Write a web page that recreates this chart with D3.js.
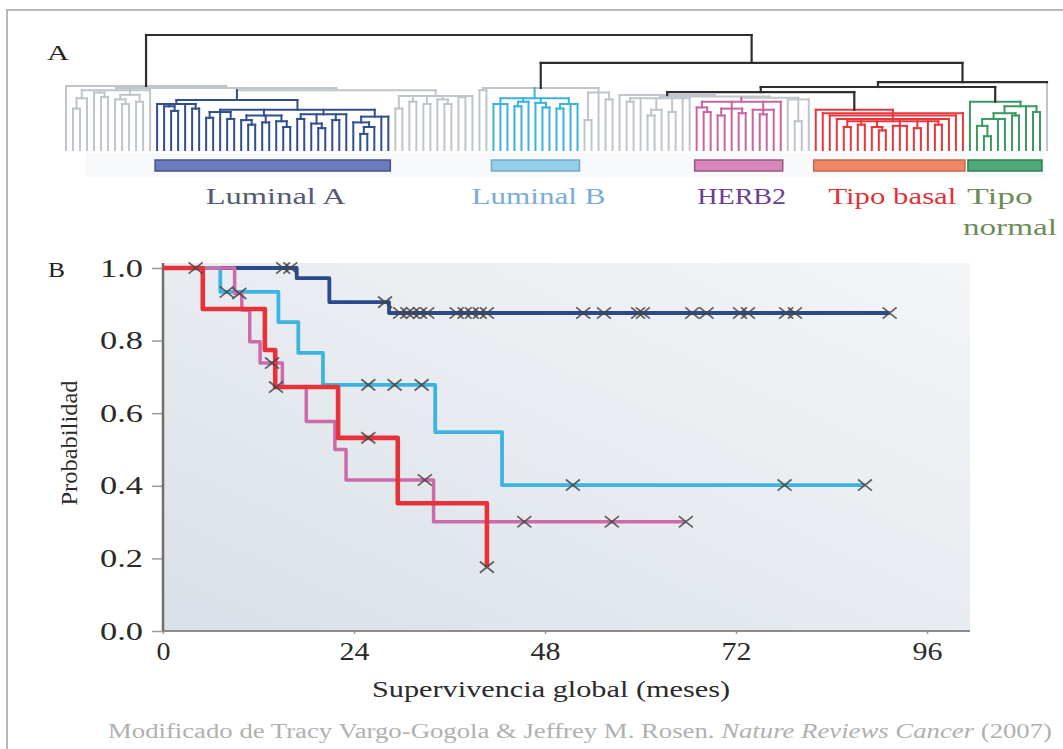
<!DOCTYPE html>
<html>
<head>
<meta charset="utf-8">
<script src="https://cdn.jsdelivr.net/npm/d3@7"></script>
<style>
  html, body { margin: 0; padding: 0; background: #fff; }
  svg { display: block; font-family: "Liberation Serif", "DejaVu Serif", serif; }
</style>
</head>
<body>
<svg id="fig" width="1063" height="749"></svg>
<script>
// ---------------------------------------------------------------------------
// Panel A: hierarchical clustering of tumour samples.
// A node is [height, child, child, ...]; `o` is a single sample (leaf).
// ---------------------------------------------------------------------------
const o = 0;

const grayLeft = [0.52, [0.45, [0.36, o, o], o], [0.5, o, [0.46, o, o]],
  [0.48, [0.44, o, [0.4, o, o]], [0.42, o, o]], o];
const luminalA = [0.435,
  [0.4, o, [0.38, o, [0.34, o, o]], o, [0.36, o, o]],
  [0.35,
    [0.33, [0.28, o, o], o, [0.27, o, o]],
    [0.3, [0.26, o, [0.22, o, o]], [0.24, o, o], [0.25, o, [0.2, o, o]]],
    [0.31, [0.27, o, o], [0.23, o, [0.19, o, o]], [0.26, o, o], o],
    [0.29, [0.24, o, [0.2, [0.14, o, o], o]], o, o]]];
const grayAfterA = [0.47, [0.36, o, o], [0.42, o, o], [0.4, o, o], [0.44, o, [0.4, o, o]], [0.46, o, o], o];
const leftInner = [0.52, luminalA, grayAfterA];
const leftBranch = [0.557, o, [0.54, grayLeft, leftInner]];

const luminalB = [0.45, [0.4, o, o, o], [0.42, [0.38, o, o], o], [0.41, o, [0.37, o, o]], [0.4, [0.36, o, o], o, o]];
const grayAfterB = [0.5, [0.26, o, o], o, [0.44, o, o]];
const lumBBranch = [0.54, [0.52, o, o], luminalB, grayAfterB];

const grayBeforeHer2 = [0.45, [0.42, o, o], o, [0.35, [0.3, o, o], o], [0.33, o, o], o, o];
const her2 = [0.42, [0.37, o, [0.33, o, o]], [0.36, [0.3, o, o], o, [0.32, o, o]], [0.35, o, [0.31, o, o], o], o];
const grayAfterHer2 = [0.44, o, [0.25, o, o], o];
const her2Branch = [0.478, o, [0.465, grayBeforeHer2, [0.455, her2, grayAfterHer2]]];

const basal = [0.35, o, [0.32, o, [0.3, o, [0.27, o,
  [0.25, [0.2, o, o], [0.22, o, o], [0.2, o, [0.17, o, o]], [0.21, o, o, o], [0.19, o, o], o, [0.22, o, o]],
  o], o], o]];
const normalLike = [0.42, o, [0.38, [0.32, [0.27, [0.21, o, [0.12, o, o]], o, o], [0.3, o, o]], o, [0.33, o, o]]];

const basalNormalBranch = [0.504, her2Branch, basal];
const upperRight = [0.548, basalNormalBranch, normalLike];
const outerRight = [0.59, upperRight, o];
const rightBranch = [0.757, lumBBranch, outerRight];
const tree = [1, leftBranch, rightBranch];

// top-level joins drawn in black
const backbone = [tree, rightBranch, outerRight, upperRight, basalNormalBranch];

const subtypeNames = ["Luminal A", "Luminal B", "HERB2", "Tipo basal", "Tipo normal"];
const subtypeClusters = [luminalA, luminalB, her2, basal, normalLike];

// ---------------------------------------------------------------------------
// Panel B: Kaplan-Meier overall survival by subtype (months).
// ---------------------------------------------------------------------------
const kmSubtypes = ["Luminal A", "Luminal B", "HERB2", "Tipo basal"];

const lumATimes = [0, 16.8, 20.9, 28.4];
const lumASurv  = [1, 0.972, 0.906, 0.876];
const lumAEnd = 91.3;
const lumACensored = [15.1, 16.0, 27.9, 29.8, 30.7, 31.4, 32.3, 33.2, 36.9, 37.9, 38.8, 39.8, 40.7,
  52.8, 55.4, 59.7, 60.3, 66.5, 68.3, 72.5, 73.5, 78.3, 79.4, 91.3];

const lumBTimes = [0, 7.2, 14.5, 17.0, 20.1, 34.2, 42.6];
const lumBSurv  = [1, 0.934, 0.851, 0.766, 0.678, 0.548, 0.402];
const lumBEnd = 88.2;
const lumBCensored = [8.0, 25.8, 29.1, 32.5, 51.5, 78.1, 88.2];

const her2Times = [0, 9.0, 9.9, 10.9, 12.2, 15.0, 18.0, 21.6, 23.0, 34.0];
const her2Surv  = [1, 0.93, 0.884, 0.797, 0.738, 0.672, 0.577, 0.5, 0.416, 0.301];
const her2End = 65.7;
const her2Censored = [9.6, 13.7, 32.9, 45.4, 56.4, 65.7];

const basalTimes = [0, 5.0, 12.8, 14.1, 22.0, 29.5, 40.7];
const basalSurv  = [1, 0.887, 0.774, 0.672, 0.532, 0.352, 0.176];
const basalEnd = 40.7;
const basalCensored = [4.1, 14.2, 25.8, 40.7];

const monthTicks = [0, 24, 48, 72, 96];
const probTicks = [0, 0.2, 0.4, 0.6, 0.8, 1.0];

// ---------------------------------------------------------------------------
const svg = d3.select("#fig");
svg.append("rect").attr("width", 1063).attr("height", 749).attr("fill", "#fff");

// outer frame
svg.append("path").attr("d", "M7,760V10H1070")
  .attr("fill", "none").attr("stroke", "#b8b8b8").attr("stroke-width", 2);

// colours
const BLACK = "#2e2e2e", GRAY = "#bfc5cb";
const treeColor = d3.scaleOrdinal().domain(subtypeNames)
  .range(["#2f4f8e", "#3bb2de", "#c964a2", "#e8363c", "#3b9a63"]);
const barFill = d3.scaleOrdinal().domain(subtypeNames)
  .range(["#6a7bc0", "#93cfeb", "#d986bd", "#ef8665", "#4fa877"]);
const barStroke = d3.scaleOrdinal().domain(subtypeNames)
  .range(["#46537f", "#76a9c2", "#95587f", "#c06a4c", "#337d55"]);
const labelColor = d3.scaleOrdinal().domain(subtypeNames)
  .range(["#545a70", "#78acdc", "#6a3f96", "#e23236", "#6e8c57"]);

// widens a text run to a given advance, the face being set wider than the fallback serif
const stretch = (sel, w) => sel.attr("textLength", w).attr("lengthAdjust", "spacingAndGlyphs");

// ---- dendrogram layout ----
const root = d3.hierarchy(tree, d => Array.isArray(d) ? d.slice(1) : null);
const leaves = root.leaves();
const leafX = d3.scaleLinear().domain([0, leaves.length - 1]).range([66, 1047]);
const heightY = d3.scaleLinear().domain([0, 1]).range([150, 35]);
leaves.forEach((l, i) => { l.x = leafX(i); });
root.eachAfter(n => {
  if (n.children) n.x = (n.children[0].x + n.children[n.children.length - 1].x) / 2;
  n.y = heightY(n.children ? n.data[0] : 0);
});
const subtypeOf = new Map(subtypeClusters.map((c, i) => [c, subtypeNames[i]]));
root.eachBefore(n => {
  n.subtype = subtypeOf.get(n.data) || (n.parent ? n.parent.subtype : null);
  n.backbone = backbone.includes(n.data);
});
const nodeColor = n => n.backbone ? BLACK : (n.subtype ? treeColor(n.subtype) : GRAY);
const rank = c => c === GRAY ? 0 : (c === BLACK ? 2 : 1);

const segs = [];
root.each(n => {
  if (n.children) {
    const c0 = n.children[0], c1 = n.children[n.children.length - 1];
    segs.push({ x1: c0.x, y1: n.y, x2: c1.x, y2: n.y, c: nodeColor(n) });
  }
  if (n.parent) {
    const c = (n.parent.backbone && n.children) ? BLACK : nodeColor(n);
    segs.push({ x1: n.x, y1: n.y, x2: n.x, y2: n.parent.y, c });
  }
});
segs.sort((a, b) => rank(a.c) - rank(b.c));

const dendro = svg.append("g");
// pale strip behind the subtype bars
dendro.append("rect").attr("x", 85).attr("y", 153).attr("width", 960).attr("height", 24)
  .attr("fill", "#f8f9fa");
dendro.selectAll("line.seg").data(segs).join("line")
  .attr("class", "seg")
  .attr("x1", d => d.x1).attr("y1", d => d.y1).attr("x2", d => d.x2).attr("y2", d => d.y2)
  .attr("stroke", d => d.c).attr("stroke-width", d => d.c === BLACK ? 2.2 : 2)
  .attr("stroke-linecap", "square");

// subtype bars and names
const groupNodes = subtypeNames.map((name, i) => {
  let found = null;
  root.each(n => { if (n.data === subtypeClusters[i]) found = n; });
  const lv = found.leaves();
  return { name, x0: lv[0].x - 2, x1: lv[lv.length - 1].x + 2 };
});
dendro.selectAll("rect.bar").data(groupNodes).join("rect")
  .attr("class", "bar")
  .attr("x", d => d.x0).attr("y", 160).attr("width", d => d.x1 - d.x0).attr("height", 11)
  .attr("fill", d => barFill(d.name)).attr("stroke", d => barStroke(d.name)).attr("stroke-width", 1.5);

const labelWidth = d3.scaleOrdinal().domain(subtypeNames).range([140, 134, 89, 128, 0]);
const labelG = dendro.append("g").attr("font-size", 24);
groupNodes.forEach(g => {
  const fill = labelColor(g.name);
  if (g.name === "Tipo normal") {
    stretch(labelG.append("text").attr("fill", fill).attr("x", g.x0 - 1).attr("y", 204).text("Tipo"), 66);
    stretch(labelG.append("text").attr("fill", fill).attr("x", g.x0 - 5).attr("y", 235).text("normal"), 94);
  } else {
    stretch(labelG.append("text").attr("fill", fill).attr("text-anchor", "middle")
      .attr("x", (g.x0 + g.x1) / 2 + 3).attr("y", 204).text(g.name), labelWidth(g.name));
  }
});

stretch(svg.append("text").attr("x", 47).attr("y", 60).attr("font-size", 22).attr("fill", "#222").text("A"), 22);
stretch(svg.append("text").attr("x", 48).attr("y", 277).attr("font-size", 22).attr("fill", "#222").text("B"), 17);

// ---- Kaplan-Meier panel ----
const plotLeft = 163, plotRight = 970, plotTop = 263, plotBottom = 631;
const x = d3.scaleLinear().domain([0, 101.4]).range([plotLeft, plotRight]);
const y = d3.scaleLinear().domain([0, 1]).range([plotBottom, 268]);

const defs = svg.append("defs");
const grad = defs.append("linearGradient").attr("id", "plotBg")
  .attr("x1", 0).attr("y1", 1).attr("x2", 1).attr("y2", 0);
grad.append("stop").attr("offset", 0).attr("stop-color", "#d9e0e7");
grad.append("stop").attr("offset", 0.55).attr("stop-color", "#e9edf1");
grad.append("stop").attr("offset", 1).attr("stop-color", "#f3f5f7");

svg.append("rect").attr("x", plotLeft).attr("y", plotTop)
  .attr("width", plotRight - plotLeft).attr("height", plotBottom - plotTop)
  .attr("fill", "url(#plotBg)");

const yAxis = svg.append("g").attr("transform", `translate(${plotLeft},0)`)
  .call(d3.axisLeft(y).tickValues(probTicks).tickFormat(d3.format(".1f")).tickSize(11).tickPadding(9));
const xAxis = svg.append("g").attr("transform", `translate(0,${plotBottom})`)
  .call(d3.axisBottom(x).tickValues(monthTicks).tickSize(3).tickPadding(8));
[yAxis, xAxis].forEach(g => {
  g.select(".domain").remove();
  g.selectAll(".tick line").attr("stroke", "#9a9a9a").attr("stroke-width", 1.5);
  g.selectAll(".tick text").attr("font-family", "Liberation Serif, serif")
    .attr("font-size", 25).attr("fill", "#2a2a2a");
});
yAxis.selectAll(".tick text").each(function () { stretch(d3.select(this), 43); });
xAxis.selectAll(".tick text").each(function (d) { stretch(d3.select(this), d === 0 ? 14 : 30); });

svg.append("line").attr("x1", plotLeft).attr("x2", plotRight).attr("y1", plotBottom).attr("y2", plotBottom)
  .attr("stroke", "#8c8c8c").attr("stroke-width", 2);
svg.append("line").attr("x1", plotLeft).attr("x2", plotLeft).attr("y1", plotTop).attr("y2", plotBottom)
  .attr("stroke", "#707070").attr("stroke-width", 2.5);

const km = [
  { name: "Luminal A", times: lumATimes, surv: lumASurv, end: lumAEnd, cens: lumACensored },
  { name: "Luminal B", times: lumBTimes, surv: lumBSurv, end: lumBEnd, cens: lumBCensored },
  { name: "HERB2", times: her2Times, surv: her2Surv, end: her2End, cens: her2Censored },
  { name: "Tipo basal", times: basalTimes, surv: basalSurv, end: basalEnd, cens: basalCensored }
];
const kmColor = d3.scaleOrdinal().domain(kmSubtypes).range(["#2b4a8e", "#3cb4df", "#cd6aa9", "#e8323a"]);
const kmWidth = d3.scaleOrdinal().domain(kmSubtypes).range([3.8, 3.8, 3.5, 4.6]);
const step = d3.line().x(d => x(d[0])).y(d => y(d[1])).curve(d3.curveStepAfter);
const survAt = (s, t) => s.surv[d3.bisectRight(s.times, t) - 1];

svg.append("g").selectAll("path").data(km).join("path")
  .attr("d", s => step(s.times.map((t, i) => [t, s.surv[i]]).concat([[s.end, s.surv[s.surv.length - 1]]])))
  .attr("fill", "none").attr("stroke", s => kmColor(s.name)).attr("stroke-width", s => kmWidth(s.name))
  .attr("stroke-linejoin", "round");

const marks = km.flatMap(s => s.cens.map(t => ({ t, p: survAt(s, t) })));
const r = 7;
svg.append("g").selectAll("path").data(marks).join("path")
  .attr("d", d => {
    const cx = x(d.t), cy = y(d.p);
    return `M${cx - r},${cy - r * 0.8}L${cx + r},${cy + r * 0.8}M${cx - r},${cy + r * 0.8}L${cx + r},${cy - r * 0.8}`;
  })
  .attr("stroke", "#454545").attr("stroke-width", 1.7).attr("fill", "none").attr("opacity", 0.85);

// axis titles
stretch(svg.append("text").attr("transform", "translate(77,443) rotate(-90)")
  .attr("text-anchor", "middle").attr("font-size", 23).attr("fill", "#2a2a2a").text("Probabilidad"), 125);
stretch(svg.append("text").attr("x", 551).attr("y", 697).attr("text-anchor", "middle")
  .attr("font-size", 24).attr("fill", "#2a2a2a").text("Supervivencia global (meses)"), 358);

// source line
const src = stretch(svg.append("text").attr("x", 108).attr("y", 738).attr("font-size", 20).attr("fill", "#b0b0b0"), 944);
src.append("tspan").text("Modificado de Tracy Vargo-Gogola & Jeffrey M. Rosen. ");
src.append("tspan").attr("font-style", "italic").text("Nature Reviews Cancer");
src.append("tspan").text(" (2007)");
</script>
</body>
</html>
